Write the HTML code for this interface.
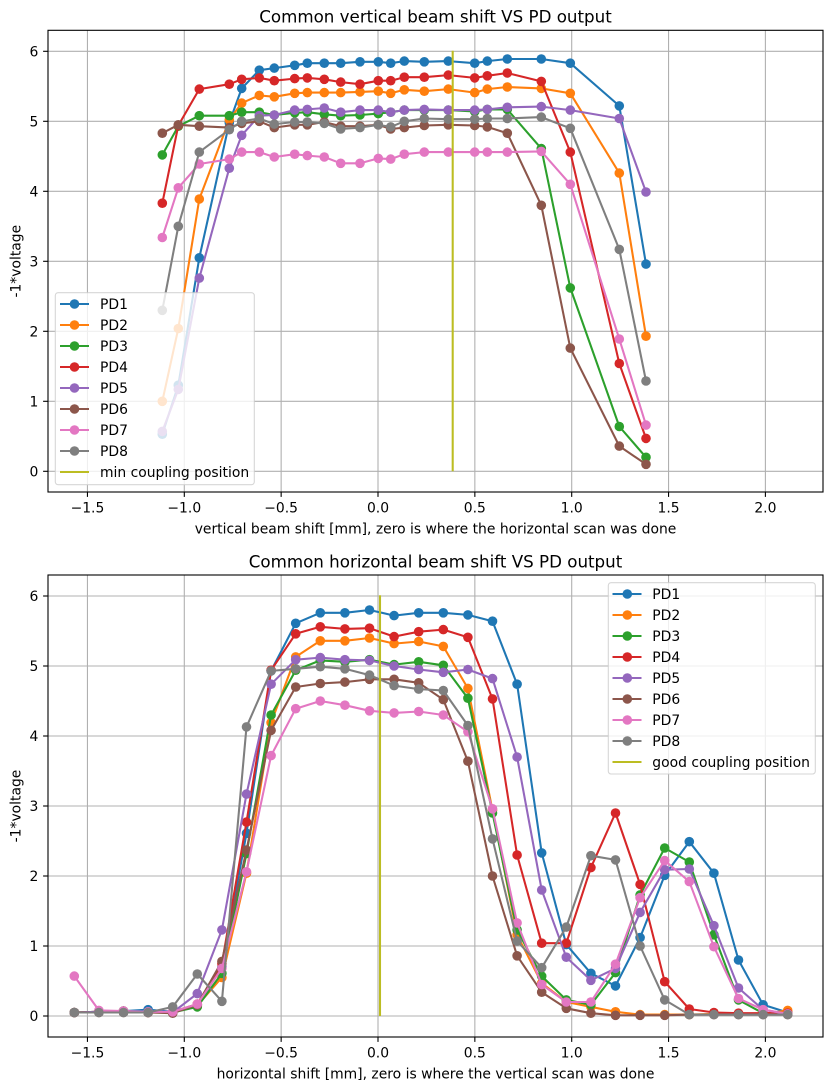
<!DOCTYPE html>
<html><head><meta charset="utf-8"><style>
html,body{margin:0;padding:0;background:#fff;}
svg{display:block;}
text{font-family:"DejaVu Sans","Liberation Sans",sans-serif;fill:#000;}
</style></head><body>
<svg width="833" height="1090" viewBox="0 0 833 1090" xmlns="http://www.w3.org/2000/svg">
<defs>
<marker id="m1" markerWidth="12" markerHeight="12" refX="6" refY="6" markerUnits="userSpaceOnUse"><circle cx="6" cy="6" r="4.8" fill="#1f77b4"/></marker>
<marker id="m2" markerWidth="12" markerHeight="12" refX="6" refY="6" markerUnits="userSpaceOnUse"><circle cx="6" cy="6" r="4.8" fill="#ff7f0e"/></marker>
<marker id="m3" markerWidth="12" markerHeight="12" refX="6" refY="6" markerUnits="userSpaceOnUse"><circle cx="6" cy="6" r="4.8" fill="#2ca02c"/></marker>
<marker id="m4" markerWidth="12" markerHeight="12" refX="6" refY="6" markerUnits="userSpaceOnUse"><circle cx="6" cy="6" r="4.8" fill="#d62728"/></marker>
<marker id="m5" markerWidth="12" markerHeight="12" refX="6" refY="6" markerUnits="userSpaceOnUse"><circle cx="6" cy="6" r="4.8" fill="#9467bd"/></marker>
<marker id="m6" markerWidth="12" markerHeight="12" refX="6" refY="6" markerUnits="userSpaceOnUse"><circle cx="6" cy="6" r="4.8" fill="#8c564b"/></marker>
<marker id="m7" markerWidth="12" markerHeight="12" refX="6" refY="6" markerUnits="userSpaceOnUse"><circle cx="6" cy="6" r="4.8" fill="#e377c2"/></marker>
<marker id="m8" markerWidth="12" markerHeight="12" refX="6" refY="6" markerUnits="userSpaceOnUse"><circle cx="6" cy="6" r="4.8" fill="#7f7f7f"/></marker>
</defs>
<rect x="0" y="0" width="833" height="1090" fill="#fff"/>

<!-- ================= TOP PLOT ================= -->
<text x="435.5" y="22.5" font-size="16.7" text-anchor="middle">Common vertical beam shift VS PD output</text>
<g stroke="#b0b0b0" stroke-width="1.1">
<line x1="87.45" y1="30.3" x2="87.45" y2="492"/>
<line x1="184.3" y1="30.3" x2="184.3" y2="492"/>
<line x1="281.15" y1="30.3" x2="281.15" y2="492"/>
<line x1="378" y1="30.3" x2="378" y2="492"/>
<line x1="474.85" y1="30.3" x2="474.85" y2="492"/>
<line x1="571.7" y1="30.3" x2="571.7" y2="492"/>
<line x1="668.55" y1="30.3" x2="668.55" y2="492"/>
<line x1="765.4" y1="30.3" x2="765.4" y2="492"/>
<line x1="48" y1="471.3" x2="823" y2="471.3"/>
<line x1="48" y1="401.3" x2="823" y2="401.3"/>
<line x1="48" y1="331.3" x2="823" y2="331.3"/>
<line x1="48" y1="261.3" x2="823" y2="261.3"/>
<line x1="48" y1="191.3" x2="823" y2="191.3"/>
<line x1="48" y1="121.3" x2="823" y2="121.3"/>
<line x1="48" y1="51.3" x2="823" y2="51.3"/>
</g>
<g fill="none" stroke-width="2.08" stroke-linejoin="round">
<polyline stroke="#1f77b4" marker-start="url(#m1)" marker-mid="url(#m1)" marker-end="url(#m1)" points="162.3,434.2 178.3,385.2 199.3,257.8 229.3,122.7 241.7,88.4 259.3,70.2 274.3,68.1 294.7,65.3 307.3,63.2 324.3,63.2 340.7,63.2 360,61.8 378.3,61.8 390.7,63.2 404.3,61.1 424.3,61.8 448.3,61.1 474.7,63.2 487.3,61.1 507.3,59 541.3,59 570.3,63.2 619.3,105.9 646,264.1"/>
<polyline stroke="#ff7f0e" marker-start="url(#m2)" marker-mid="url(#m2)" marker-end="url(#m2)" points="162.3,401.3 178.3,328.5 199.3,199 229.3,119.9 241.7,103.1 259.3,95.4 274.3,96.8 294.7,93.3 307.3,92.6 324.3,92.6 340.7,92.6 360,91.9 378.3,91.2 390.7,93.3 404.3,89.8 424.3,91.2 448.3,89.1 474.7,92.6 487.3,89.1 507.3,87 541.3,88.4 570.3,93.3 619.3,173.1 646,336.2"/>
<polyline stroke="#2ca02c" marker-start="url(#m3)" marker-mid="url(#m3)" marker-end="url(#m3)" points="162.3,154.9 178.3,126.2 199.3,115.7 229.3,115.7 241.7,112.2 259.3,112.2 274.3,115 294.7,112.9 307.3,112.2 324.3,114.3 340.7,115.7 360,115 378.3,113.6 390.7,112.2 404.3,110.1 424.3,110.1 448.3,110.1 474.7,111.5 487.3,109.4 507.3,109.4 541.3,148.6 570.3,287.9 619.3,426.5 646,457.3"/>
<polyline stroke="#d62728" marker-start="url(#m4)" marker-mid="url(#m4)" marker-end="url(#m4)" points="162.3,203.2 178.3,125.5 199.3,89.1 229.3,84.2 241.7,79.3 259.3,77.9 274.3,80.7 294.7,78.6 307.3,77.9 324.3,79.3 340.7,82.1 360,84.2 378.3,80.7 390.7,80.7 404.3,77.2 424.3,77.2 448.3,75.1 474.7,77.9 487.3,75.8 507.3,73 541.3,81.4 570.3,152.1 619.3,363.5 646,438.4"/>
<polyline stroke="#9467bd" marker-start="url(#m5)" marker-mid="url(#m5)" marker-end="url(#m5)" points="162.3,431.4 178.3,389.4 199.3,278.1 229.3,168.2 241.7,135.3 259.3,115.7 274.3,115 294.7,110.1 307.3,109.4 324.3,108 340.7,112.2 360,110.1 378.3,110.1 390.7,112.2 404.3,110.1 424.3,109.4 448.3,110.1 474.7,110.1 487.3,109.4 507.3,107.3 541.3,106.6 570.3,110.1 619.3,118.5 646,192"/>
<polyline stroke="#8c564b" marker-start="url(#m6)" marker-mid="url(#m6)" marker-end="url(#m6)" points="162.3,133.2 178.3,124.8 199.3,126.2 229.3,127.6 241.7,123.4 259.3,121.3 274.3,127.6 294.7,124.8 307.3,124.8 324.3,122 340.7,126.2 360,126.2 378.3,124.8 390.7,129 404.3,127.6 424.3,125.5 448.3,124.8 474.7,125.5 487.3,126.9 507.3,133.2 541.3,205.3 570.3,348.1 619.3,446.1 646,464.3"/>
<polyline stroke="#e377c2" marker-start="url(#m7)" marker-mid="url(#m7)" marker-end="url(#m7)" points="162.3,237.5 178.3,187.8 199.3,164 229.3,159.1 241.7,152.1 259.3,152.1 274.3,157 294.7,154.2 307.3,155.6 324.3,157 340.7,163.3 360,163.3 378.3,158.4 390.7,159.1 404.3,154.2 424.3,152.1 448.3,152.1 474.7,152.1 487.3,152.1 507.3,152.1 541.3,151.4 570.3,184.3 619.3,339 646,425.1"/>
<polyline stroke="#7f7f7f" marker-start="url(#m8)" marker-mid="url(#m8)" marker-end="url(#m8)" points="162.3,310.3 178.3,226.3 199.3,152.1 229.3,129.7 241.7,121.3 259.3,118.5 274.3,124.1 294.7,122 307.3,122 324.3,123.4 340.7,129 360,127.6 378.3,124.8 390.7,126.9 404.3,121.3 424.3,118.5 448.3,119.2 474.7,119.2 487.3,118.5 507.3,118.5 541.3,117.1 570.3,128.3 619.3,249.4 646,381"/>
<line x1="452.7" y1="50.7" x2="452.7" y2="471.3" stroke="#bcbd22"/>
</g>
<rect x="48" y="30.3" width="775" height="461.7" fill="none" stroke="#000" stroke-width="1.1"/>
<g stroke="#000" stroke-width="1.1">
<line x1="87.45" y1="492" x2="87.45" y2="496.9"/>
<line x1="184.3" y1="492" x2="184.3" y2="496.9"/>
<line x1="281.15" y1="492" x2="281.15" y2="496.9"/>
<line x1="378" y1="492" x2="378" y2="496.9"/>
<line x1="474.85" y1="492" x2="474.85" y2="496.9"/>
<line x1="571.7" y1="492" x2="571.7" y2="496.9"/>
<line x1="668.55" y1="492" x2="668.55" y2="496.9"/>
<line x1="765.4" y1="492" x2="765.4" y2="496.9"/>
<line x1="43.1" y1="471.3" x2="48" y2="471.3"/>
<line x1="43.1" y1="401.3" x2="48" y2="401.3"/>
<line x1="43.1" y1="331.3" x2="48" y2="331.3"/>
<line x1="43.1" y1="261.3" x2="48" y2="261.3"/>
<line x1="43.1" y1="191.3" x2="48" y2="191.3"/>
<line x1="43.1" y1="121.3" x2="48" y2="121.3"/>
<line x1="43.1" y1="51.3" x2="48" y2="51.3"/>
</g>
<g font-size="13.9" text-anchor="middle">
<text x="87.45" y="512.5">−1.5</text>
<text x="184.3" y="512.5">−1.0</text>
<text x="281.15" y="512.5">−0.5</text>
<text x="378" y="512.5">0.0</text>
<text x="474.85" y="512.5">0.5</text>
<text x="571.7" y="512.5">1.0</text>
<text x="668.55" y="512.5">1.5</text>
<text x="765.4" y="512.5">2.0</text>
</g>
<g font-size="13.9" text-anchor="end">
<text x="38.3" y="476.3">0</text>
<text x="38.3" y="406.3">1</text>
<text x="38.3" y="336.3">2</text>
<text x="38.3" y="266.3">3</text>
<text x="38.3" y="196.3">4</text>
<text x="38.3" y="126.3">5</text>
<text x="38.3" y="56.3">6</text>
</g>
<text x="435.5" y="533.5" font-size="13.9" text-anchor="middle">vertical beam shift [mm], zero is where the horizontal scan was done</text>
<text transform="translate(20.6,261.2) rotate(-90)" font-size="13.9" text-anchor="middle">-1*voltage</text>

<!-- top legend -->
<rect x="55.3" y="292.7" width="199" height="192" rx="2.8" ry="2.8" fill="#fff" fill-opacity="0.8" stroke="#cccccc" stroke-opacity="0.8" stroke-width="1.1"/>
<g stroke-width="2.08">
<line x1="60" y1="304" x2="89" y2="304" stroke="#1f77b4"/><circle cx="74.5" cy="304" r="4.8" fill="#1f77b4"/>
<line x1="60" y1="325" x2="89" y2="325" stroke="#ff7f0e"/><circle cx="74.5" cy="325" r="4.8" fill="#ff7f0e"/>
<line x1="60" y1="346" x2="89" y2="346" stroke="#2ca02c"/><circle cx="74.5" cy="346" r="4.8" fill="#2ca02c"/>
<line x1="60" y1="367" x2="89" y2="367" stroke="#d62728"/><circle cx="74.5" cy="367" r="4.8" fill="#d62728"/>
<line x1="60" y1="388" x2="89" y2="388" stroke="#9467bd"/><circle cx="74.5" cy="388" r="4.8" fill="#9467bd"/>
<line x1="60" y1="409" x2="89" y2="409" stroke="#8c564b"/><circle cx="74.5" cy="409" r="4.8" fill="#8c564b"/>
<line x1="60" y1="430" x2="89" y2="430" stroke="#e377c2"/><circle cx="74.5" cy="430" r="4.8" fill="#e377c2"/>
<line x1="60" y1="451" x2="89" y2="451" stroke="#7f7f7f"/><circle cx="74.5" cy="451" r="4.8" fill="#7f7f7f"/>
<line x1="60" y1="472" x2="89" y2="472" stroke="#bcbd22"/>
</g>
<g font-size="13.9">
<text x="100" y="309">PD1</text>
<text x="100" y="330">PD2</text>
<text x="100" y="351">PD3</text>
<text x="100" y="372">PD4</text>
<text x="100" y="393">PD5</text>
<text x="100" y="414">PD6</text>
<text x="100" y="435">PD7</text>
<text x="100" y="456">PD8</text>
<text x="100" y="477">min coupling position</text>
</g>

<!-- ================= BOTTOM PLOT ================= -->
<text x="435.5" y="567.3" font-size="16.7" text-anchor="middle">Common horizontal beam shift VS PD output</text>
<g stroke="#b0b0b0" stroke-width="1.1">
<line x1="87.45" y1="575" x2="87.45" y2="1037"/>
<line x1="184.3" y1="575" x2="184.3" y2="1037"/>
<line x1="281.15" y1="575" x2="281.15" y2="1037"/>
<line x1="378" y1="575" x2="378" y2="1037"/>
<line x1="474.85" y1="575" x2="474.85" y2="1037"/>
<line x1="571.7" y1="575" x2="571.7" y2="1037"/>
<line x1="668.55" y1="575" x2="668.55" y2="1037"/>
<line x1="765.4" y1="575" x2="765.4" y2="1037"/>
<line x1="48" y1="1016" x2="823" y2="1016"/>
<line x1="48" y1="946" x2="823" y2="946"/>
<line x1="48" y1="876" x2="823" y2="876"/>
<line x1="48" y1="806" x2="823" y2="806"/>
<line x1="48" y1="736" x2="823" y2="736"/>
<line x1="48" y1="666" x2="823" y2="666"/>
<line x1="48" y1="596" x2="823" y2="596"/>
</g>
<g fill="none" stroke-width="2.08" stroke-linejoin="round">
<polyline stroke="#1f77b4" marker-start="url(#m1)" marker-mid="url(#m1)" marker-end="url(#m1)" points="74.3,1012.5 98.9,1011.8 123.5,1011.1 148.1,1009.7 172.7,1011.8 197.3,1005.5 221.9,967 246.5,833.3 271.1,670.9 295.7,623.3 320.3,612.8 344.9,612.8 369.5,610 394.1,615.6 418.7,612.8 443.3,612.8 467.9,614.9 492.5,621.2 517.1,684.2 541.7,852.9 566.3,944.6 590.9,973.3 615.5,985.9 640.1,937.6 664.7,875.3 689.3,841.7 713.9,873.2 738.5,960 763.1,1004.8 787.7,1012.5"/>
<polyline stroke="#ff7f0e" marker-start="url(#m2)" marker-mid="url(#m2)" marker-end="url(#m2)" points="74.3,1012.5 98.9,1011.8 123.5,1011.1 148.1,1012.5 172.7,1012.5 197.3,1005.5 221.9,977.5 246.5,873.2 271.1,722.7 295.7,656.9 320.3,640.8 344.9,640.8 369.5,638 394.1,643.6 418.7,641.5 443.3,646.4 467.9,688.4 492.5,810.2 517.1,934.8 541.7,983.1 566.3,1002 590.9,1006.9 615.5,1011.8 640.1,1014.6 664.7,1014.6 689.3,1014.6 713.9,1013.9 738.5,1013.9 763.1,1013.9 787.7,1010.4"/>
<polyline stroke="#2ca02c" marker-start="url(#m3)" marker-mid="url(#m3)" marker-end="url(#m3)" points="74.3,1012.5 98.9,1011.8 123.5,1011.1 148.1,1012.5 172.7,1012.5 197.3,1006.9 221.9,973.3 246.5,853.6 271.1,715 295.7,670.2 320.3,660.4 344.9,661.8 369.5,659.7 394.1,664.6 418.7,661.8 443.3,665.3 467.9,698.2 492.5,813 517.1,929.9 541.7,976.1 566.3,999.9 590.9,1004.8 615.5,972.6 640.1,894.9 664.7,848 689.3,862 713.9,934.8 738.5,999.9 763.1,1013.2 787.7,1013.9"/>
<polyline stroke="#d62728" marker-start="url(#m4)" marker-mid="url(#m4)" marker-end="url(#m4)" points="74.3,1012.5 98.9,1011.8 123.5,1011.1 148.1,1012.5 172.7,1011.8 197.3,1004.1 221.9,963.5 246.5,822.1 271.1,670.2 295.7,633.8 320.3,626.8 344.9,628.9 369.5,628.2 394.1,636.6 418.7,631.7 443.3,629.6 467.9,637.3 492.5,698.9 517.1,855 541.7,943.2 566.3,943.2 590.9,867.6 615.5,813 640.1,884.4 664.7,981.7 689.3,1009 713.9,1012.5 738.5,1013.2 763.1,1013.2 787.7,1013.2"/>
<polyline stroke="#9467bd" marker-start="url(#m5)" marker-mid="url(#m5)" marker-end="url(#m5)" points="74.3,1012.5 98.9,1011.8 123.5,1011.1 148.1,1012.5 172.7,1012.5 197.3,993.6 221.9,929.9 246.5,794.1 271.1,684.2 295.7,659.7 320.3,657.6 344.9,659.7 369.5,660.4 394.1,666 418.7,669.5 443.3,672.3 467.9,669.5 492.5,678.6 517.1,757 541.7,890 566.3,957.2 590.9,980.3 615.5,968.4 640.1,912.4 664.7,869.7 689.3,869 713.9,925.7 738.5,988 763.1,1009.7 787.7,1013.9"/>
<polyline stroke="#8c564b" marker-start="url(#m6)" marker-mid="url(#m6)" marker-end="url(#m6)" points="74.3,1012.5 98.9,1012.5 123.5,1012.5 148.1,1012.5 172.7,1013.2 197.3,1004.8 221.9,961.4 246.5,850.1 271.1,730.4 295.7,687 320.3,683.5 344.9,682.1 369.5,679.3 394.1,679.3 418.7,682.8 443.3,699.6 467.9,761.2 492.5,876 517.1,955.8 541.7,992.2 566.3,1008.3 590.9,1013.2 615.5,1015.3 640.1,1015.3 664.7,1015.3 689.3,1014.6 713.9,1014.6 738.5,1014.6 763.1,1014.6 787.7,1014.6"/>
<polyline stroke="#e377c2" marker-start="url(#m7)" marker-mid="url(#m7)" marker-end="url(#m7)" points="74.3,976.1 98.9,1010.4 123.5,1011.1 148.1,1011.8 172.7,1011.8 197.3,1004.1 221.9,968.4 246.5,871.8 271.1,755.6 295.7,708.7 320.3,701 344.9,705.2 369.5,710.8 394.1,712.9 418.7,711.5 443.3,715 467.9,731.8 492.5,808.8 517.1,922.9 541.7,984.5 566.3,1002 590.9,1002 615.5,964.2 640.1,897.7 664.7,860.6 689.3,881.6 713.9,946.7 738.5,998.5 763.1,1009.7 787.7,1013.9"/>
<polyline stroke="#7f7f7f" marker-start="url(#m8)" marker-mid="url(#m8)" marker-end="url(#m8)" points="74.3,1012.5 98.9,1012.5 123.5,1012.5 148.1,1012.5 172.7,1006.9 197.3,974 221.9,1001.3 246.5,726.9 271.1,670.9 295.7,668.8 320.3,666.7 344.9,668.8 369.5,675.1 394.1,685.6 418.7,689.1 443.3,690.5 467.9,725.5 492.5,838.9 517.1,941.1 541.7,967.7 566.3,927.1 590.9,855.7 615.5,859.9 640.1,946 664.7,999.9 689.3,1014.6 713.9,1014.6 738.5,1014.6 763.1,1014.6 787.7,1014.6"/>
<line x1="380" y1="595.3" x2="380" y2="1016" stroke="#bcbd22"/>
</g>
<rect x="48" y="575" width="775" height="462" fill="none" stroke="#000" stroke-width="1.1"/>
<g stroke="#000" stroke-width="1.1">
<line x1="87.45" y1="1037" x2="87.45" y2="1041.9"/>
<line x1="184.3" y1="1037" x2="184.3" y2="1041.9"/>
<line x1="281.15" y1="1037" x2="281.15" y2="1041.9"/>
<line x1="378" y1="1037" x2="378" y2="1041.9"/>
<line x1="474.85" y1="1037" x2="474.85" y2="1041.9"/>
<line x1="571.7" y1="1037" x2="571.7" y2="1041.9"/>
<line x1="668.55" y1="1037" x2="668.55" y2="1041.9"/>
<line x1="765.4" y1="1037" x2="765.4" y2="1041.9"/>
<line x1="43.1" y1="1016" x2="48" y2="1016"/>
<line x1="43.1" y1="946" x2="48" y2="946"/>
<line x1="43.1" y1="876" x2="48" y2="876"/>
<line x1="43.1" y1="806" x2="48" y2="806"/>
<line x1="43.1" y1="736" x2="48" y2="736"/>
<line x1="43.1" y1="666" x2="48" y2="666"/>
<line x1="43.1" y1="596" x2="48" y2="596"/>
</g>
<g font-size="13.9" text-anchor="middle">
<text x="87.45" y="1057.5">−1.5</text>
<text x="184.3" y="1057.5">−1.0</text>
<text x="281.15" y="1057.5">−0.5</text>
<text x="378" y="1057.5">0.0</text>
<text x="474.85" y="1057.5">0.5</text>
<text x="571.7" y="1057.5">1.0</text>
<text x="668.55" y="1057.5">1.5</text>
<text x="765.4" y="1057.5">2.0</text>
</g>
<g font-size="13.9" text-anchor="end">
<text x="38.3" y="1021">0</text>
<text x="38.3" y="951">1</text>
<text x="38.3" y="881">2</text>
<text x="38.3" y="811">3</text>
<text x="38.3" y="741">4</text>
<text x="38.3" y="671">5</text>
<text x="38.3" y="601">6</text>
</g>
<text x="435.5" y="1078.3" font-size="13.9" text-anchor="middle">horizontal shift [mm], zero is where the vertical scan was done</text>
<text transform="translate(20.6,806) rotate(-90)" font-size="13.9" text-anchor="middle">-1*voltage</text>

<!-- bottom legend -->
<rect x="608.3" y="582.7" width="207" height="191.3" rx="2.8" ry="2.8" fill="#fff" fill-opacity="0.8" stroke="#cccccc" stroke-opacity="0.8" stroke-width="1.1"/>
<g stroke-width="2.08">
<line x1="612.5" y1="594" x2="641.5" y2="594" stroke="#1f77b4"/><circle cx="627.3" cy="594" r="4.8" fill="#1f77b4"/>
<line x1="612.5" y1="615" x2="641.5" y2="615" stroke="#ff7f0e"/><circle cx="627.3" cy="615" r="4.8" fill="#ff7f0e"/>
<line x1="612.5" y1="636" x2="641.5" y2="636" stroke="#2ca02c"/><circle cx="627.3" cy="636" r="4.8" fill="#2ca02c"/>
<line x1="612.5" y1="657" x2="641.5" y2="657" stroke="#d62728"/><circle cx="627.3" cy="657" r="4.8" fill="#d62728"/>
<line x1="612.5" y1="678" x2="641.5" y2="678" stroke="#9467bd"/><circle cx="627.3" cy="678" r="4.8" fill="#9467bd"/>
<line x1="612.5" y1="699" x2="641.5" y2="699" stroke="#8c564b"/><circle cx="627.3" cy="699" r="4.8" fill="#8c564b"/>
<line x1="612.5" y1="720" x2="641.5" y2="720" stroke="#e377c2"/><circle cx="627.3" cy="720" r="4.8" fill="#e377c2"/>
<line x1="612.5" y1="741" x2="641.5" y2="741" stroke="#7f7f7f"/><circle cx="627.3" cy="741" r="4.8" fill="#7f7f7f"/>
<line x1="612.5" y1="762" x2="641.5" y2="762" stroke="#bcbd22"/>
</g>
<g font-size="13.9">
<text x="652.3" y="599">PD1</text>
<text x="652.3" y="620">PD2</text>
<text x="652.3" y="641">PD3</text>
<text x="652.3" y="662">PD4</text>
<text x="652.3" y="683">PD5</text>
<text x="652.3" y="704">PD6</text>
<text x="652.3" y="725">PD7</text>
<text x="652.3" y="746">PD8</text>
<text x="652.3" y="767">good coupling position</text>
</g>
</svg>
</body></html>
